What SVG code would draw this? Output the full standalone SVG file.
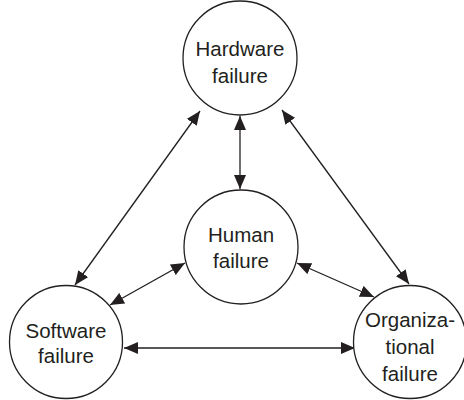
<svg xmlns="http://www.w3.org/2000/svg" width="464" height="400" viewBox="0 0 464 400">
<style>
.node circle{fill:#fff;stroke:#231f20;stroke-width:1.3}
.node text{font-family:"Liberation Sans",Arial,sans-serif;font-size:20.5px;fill:#231f20;text-anchor:middle}
.conn line{stroke:#231f20;stroke-width:1.3;marker-start:url(#ah);marker-end:url(#ah)}
</style>
<defs>
<marker id="ah" markerUnits="userSpaceOnUse" markerWidth="14" markerHeight="12" viewBox="0 0 14 12" refX="14" refY="6" orient="auto-start-reverse">
<path d="M0,0 L14,6 L0,12 z" fill="#231f20"/>
</marker>
</defs>
<rect width="464" height="400" fill="#fff"/>
<g id="connectors" class="conn">
<line x1="240" y1="116" x2="240" y2="189"/>
<line x1="200" y1="111" x2="75" y2="285"/>
<line x1="282" y1="110" x2="409" y2="284"/>
<line x1="185" y1="263" x2="110" y2="305"/>
<line x1="297" y1="263" x2="374" y2="297"/>
<line x1="124" y1="348" x2="355" y2="348"/>
</g>
<g id="hardware" class="node">
<circle cx="240" cy="58" r="57"/>
<text x="240" y="56">Hardware</text>
<text x="240" y="83">failure</text>
</g>
<g id="human" class="node">
<circle cx="241" cy="247" r="57"/>
<text x="241" y="242">Human</text>
<text x="241" y="268">failure</text>
</g>
<g id="software" class="node">
<circle cx="66" cy="342" r="56.5"/>
<text x="66" y="338">Software</text>
<text x="66" y="363">failure</text>
</g>
<g id="organizational" class="node">
<circle cx="410" cy="342" r="56.5"/>
<text x="410" y="327">Organiza-</text>
<text x="410" y="354">tional</text>
<text x="410" y="381">failure</text>
</g>
</svg>
